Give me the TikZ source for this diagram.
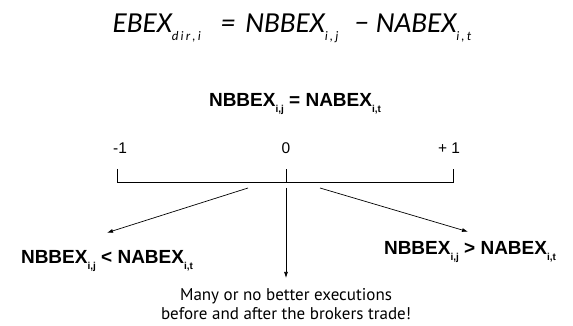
\documentclass[tikz,border=0pt]{standalone}
\usepackage{fontspec}
\setmainfont{Liberation Sans}
\newfontfamily\eqfont{Carlito}
\newfontfamily\notefont{PT Sans}
\usetikzlibrary{arrows.meta, positioning}
\newcommand{\lowsub}[1]{\raisebox{-0.3em}{\fontsize{10}{10}\selectfont #1}}
\newcommand{\eqsub}[1]{\raisebox{-8pt}{\fontsize{13}{13}\selectfont #1}}

\begin{document}
\begin{tikzpicture}[x=1pt, y=1pt, node distance=6pt,
    formula/.style={font=\eqfont\itshape\fontsize{29}{32}\selectfont, anchor=base, inner sep=0pt},
    cond/.style={font=\bfseries\fontsize{19}{22}\selectfont, anchor=base, inner sep=0pt},
    scalelbl/.style={font=\fontsize{15.5}{18}\selectfont, anchor=base, inner sep=0pt},
    note/.style={font=\notefont\fontsize{17}{19}\selectfont, align=center, inner sep=0pt},
    arr/.style={-{Latex[length=6pt, width=4pt]}, line width=0.7pt}]
    \useasboundingbox (0,0) rectangle (573,326);

    \node[formula] (eq) at (292,293) {EBEX\eqsub{d\,i\,r\,,\,i}\hspace{20pt}=\hspace{10pt}NBBEX\eqsub{i\,,\,j}\hspace{16pt}\textminus\hspace{7pt}NABEX\eqsub{i\,,\,t}};
    \node[cond] (equal) at (295,219) {NBBEX\lowsub{i,j} = NABEX\lowsub{i,t}};

    % scale from -1 to +1
    \coordinate (axl) at (117,144);
    \coordinate (axm) at (286,144);
    \coordinate (axr) at (453,144);
    \node[scalelbl] (minus) at (120,172) {-1};
    \node[scalelbl] (zero) at (286,172) {0};
    \node[scalelbl] (plus) at (449,172) {+ 1};
    \draw[line width=0.6pt] (axl) ++(0,13) -- (axl) -- (axr) -- ++(0,13);
    \draw[line width=0.6pt] (axm) -- ++(0,13);

    \node[cond] (less) at (107,62) {NBBEX\lowsub{i,j} < NABEX\lowsub{i,t}};
    \node[cond] (greater) at (470,71) {NBBEX\lowsub{i,j} > NABEX\lowsub{i,t}};
    \node[note, anchor=north] (note) at (286,38) {Many or no better executions\\before and after the brokers trade!};

    \coordinate[below left=6pt and 38pt of axm] (froml);
    \coordinate[below=6pt of axm] (fromm);
    \coordinate[below right=6pt and 34pt of axm] (fromr);
    \draw[arr] (froml) -- ([shift={(0,18)}]less.north);
    \draw[arr] (fromm) -- ([yshift=10pt]note.north);
    \draw[arr] (fromr) -- ([shift={(-2,10)}]greater.north);
\end{tikzpicture}
\end{document}
